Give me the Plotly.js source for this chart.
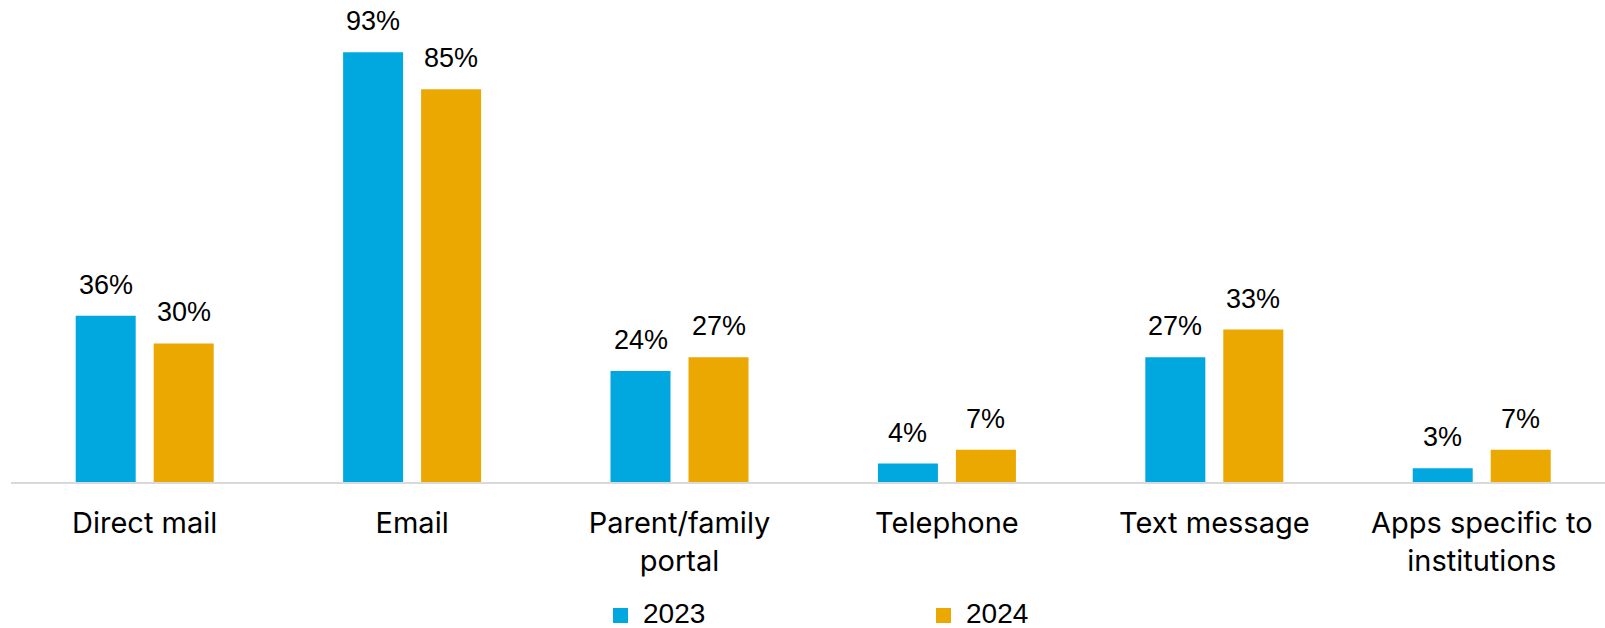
<!DOCTYPE html>
<html>
<head>
<meta charset="utf-8">
<script src="https://cdn.plot.ly/plotly-3.0.1.min.js"></script>
<style>html,body{margin:0;padding:0;background:#fff;}#chart{width:1605px;height:628px;}</style>
</head>
<body>
<div id="chart"></div>
<script>
const categories = ["Direct mail", "Email", "Parent/family<br>portal", "Telephone", "Text message", "Apps specific to<br>institutions"];
const seriesNames = ["2023", "2024"];
const values2023 = [36, 93, 24, 4, 27, 3];
const values2024 = [30, 85, 27, 7, 33, 7];
const colors = ["#00A8DF", "#EAA800"];

const W = 1605, H = 628;
const M = {l: 11, r: 0, t: 20, b: 146};
const pw = W - M.l - M.r, ph = H - M.t - M.b;
const px2paperX = p => (p - M.l) / pw;
const px2paperY = p => (H - M.b - p) / ph;

const allValues = [values2023, values2024];
const traces = allValues.map((vals, i) => ({
  type: "bar",
  name: seriesNames[i],
  x: categories,
  y: vals,
  marker: {color: colors[i]},
  showlegend: false,
  hoverinfo: "skip"
}));

const annotations = [];
allValues.forEach((vals, i) => {
  vals.forEach((v, j) => {
    annotations.push({
      x: categories[j], y: v, xref: "x", yref: "y",
      text: v + "%", showarrow: false,
      xshift: i === 0 ? -39 : 39, yshift: 14,
      yanchor: "bottom", xanchor: "center",
      font: {family: "Liberation Sans, Arial, sans-serif", size: 27, color: "#000"}
    });
  });
});

// legend keys (manual, placed below the plot)
const legendSquareLeft = [613, 936];
const shapes = [];
seriesNames.forEach((n, i) => {
  shapes.push({
    type: "rect", xref: "paper", yref: "paper",
    x0: px2paperX(legendSquareLeft[i]), x1: px2paperX(legendSquareLeft[i] + 15),
    y0: px2paperY(623), y1: px2paperY(608),
    fillcolor: colors[i], line: {width: 0}
  });
  annotations.push({
    xref: "paper", yref: "paper",
    x: px2paperX(legendSquareLeft[i] + 28), y: px2paperY(614),
    xanchor: "left", yanchor: "middle", showarrow: false,
    text: n,
    font: {family: "Liberation Sans, Arial, sans-serif", size: 28, color: "#000"}
  });
});

const layout = {
  width: W, height: H,
  margin: M,
  paper_bgcolor: "#fff", plot_bgcolor: "#fff",
  barmode: "group", bargap: 0.4166, bargroupgap: 0.2308,
  xaxis: {
    type: "category", range: [-0.5, 5.461],
    showline: true, linecolor: "#D9D9D9", linewidth: 2,
    showgrid: false, zeroline: false, ticks: "",
    ticklabelstandoff: 14,
    tickfont: {family: "Inter, Open Sans, sans-serif", size: 29, color: "#000"},
    automargin: false, fixedrange: true
  },
  yaxis: {range: [0, 100], visible: false, showgrid: false, zeroline: false, fixedrange: true},
  showlegend: false,
  shapes: shapes,
  annotations: annotations
};
Plotly.newPlot("chart", traces, layout, {displayModeBar: false, staticPlot: true});
</script>
</body>
</html>
